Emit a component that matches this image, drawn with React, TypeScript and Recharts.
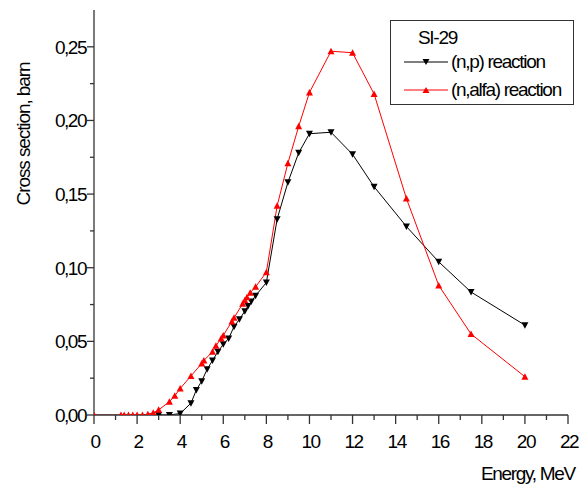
import React from 'react';
import { LineChart, Line, XAxis, YAxis } from 'recharts';

// (n,p) reaction
const npEnergy = [3.0, 3.5, 4.0, 4.5, 4.75, 5.0, 5.25, 5.5, 5.75, 6.0, 6.25, 6.5, 6.75, 7.0, 7.15, 7.3, 7.5, 8.0, 8.5, 9.0, 9.5, 10, 11, 12, 13, 14.5, 16, 17.5, 20];
const npCross = [0, 0, 0.001, 0.008, 0.017, 0.023, 0.031, 0.037, 0.043, 0.048, 0.052, 0.06, 0.065, 0.0705, 0.074, 0.077, 0.081, 0.09, 0.133, 0.158, 0.178, 0.191, 0.192, 0.177, 0.155, 0.128, 0.104, 0.0835, 0.061];

// (n,alfa) reaction
const naEnergy = [0, 1.25, 1.4, 1.6, 1.8, 2.0, 2.25, 2.5, 2.75, 3.0, 3.5, 3.75, 4.0, 4.5, 5.0, 5.1, 5.5, 5.66, 5.9, 6.0, 6.4, 6.5, 6.9, 7.0, 7.1, 7.25, 7.5, 8.0, 8.5, 9.0, 9.5, 10, 11, 12, 13, 14.5, 16, 17.5, 20];
const naCross = [0, 0, 0, 0, 0, 0, 0, 0.0005, 0.0015, 0.0035, 0.009, 0.013, 0.018, 0.0265, 0.035, 0.037, 0.043, 0.047, 0.052, 0.054, 0.0635, 0.066, 0.0755, 0.078, 0.08, 0.083, 0.087, 0.097, 0.142, 0.171, 0.196, 0.219, 0.247, 0.246, 0.218, 0.147, 0.088, 0.055, 0.026];

const xTicks = Array.from({ length: 23 }, (_, i) => i);
const yTicks = [0, 0.025, 0.05, 0.075, 0.1, 0.125, 0.15, 0.175, 0.2, 0.225, 0.25];
const yMajor = [0, 0.05, 0.1, 0.15, 0.2, 0.25];

const title = 'SI-29';
const npName = '(n,p) reaction';
const naName = '(n,alfa) reaction';

const npData = npEnergy.map((x, i) => ({ x, y: npCross[i] }));
const naData = naEnergy.map((x, i) => ({ x, y: naCross[i] }));

const FONT = '"Liberation Sans", Arial, sans-serif';
const AXIS = '#333';

const DownTri = (props: any) => {
  const { cx, cy } = props;
  if (cx == null || cy == null) return null;
  return <path d={`M${cx - 3.5},${cy - 3} L${cx + 3.5},${cy - 3} L${cx},${cy + 3.5} Z`} fill="#000" />;
};
const UpTri = (props: any) => {
  const { cx, cy } = props;
  if (cx == null || cy == null) return null;
  return <path d={`M${cx - 3.5},${cy + 3} L${cx + 3.5},${cy + 3} L${cx},${cy - 3.5} Z`} fill="#ff0000" />;
};

const XTick = (props: any) => {
  const { x, y, payload } = props;
  const v = payload.value;
  const major = v % 2 === 0;
  return (
    <g>
      <line x1={x} x2={x} y1={y} y2={y + (major ? 9 : 5)} stroke={AXIS} strokeWidth={1.3} />
      {major && (
        <text x={x + 1} y={y + 33} textAnchor="middle" fontFamily={FONT} fontSize={19} letterSpacing={-1.5} fill="#000">
          {v}
        </text>
      )}
    </g>
  );
};

const YTick = (props: any) => {
  const { x, y, payload } = props;
  const v = payload.value;
  const major = yMajor.some((m) => Math.abs(m - v) < 1e-9);
  return (
    <g>
      <line x1={x - (major ? 7 : 4)} x2={x} y1={y} y2={y} stroke={AXIS} strokeWidth={1.3} />
      {major && (
        <text x={x - 8} y={y + 7} textAnchor="end" fontFamily={FONT} fontSize={19} letterSpacing={-1.5} fill="#000">
          {v.toFixed(2).replace('.', ',')}
        </text>
      )}
    </g>
  );
};

const Legend = () => (
  <div
    style={{
      position: 'absolute',
      left: 390,
      top: 20,
      width: 184,
      height: 85,
      border: '1.3px solid #333',
      background: '#fff',
      fontFamily: FONT,
      fontSize: 19,
      letterSpacing: -1.3,
      color: '#000',
      boxSizing: 'border-box',
    }}
  >
    <div style={{ position: 'absolute', left: 27, top: 6, lineHeight: '22px' }}>{title}</div>
    <div style={{ position: 'absolute', left: 13, top: 30, display: 'flex', alignItems: 'center', lineHeight: '22px' }}>
      <svg width={44} height={12} style={{ marginRight: 3 }}>
        <line x1={0} x2={44} y1={6} y2={6} stroke="#000" strokeWidth={1} />
        <path d="M18.5,3 L25.5,3 L22,9 Z" fill="#000" />
      </svg>
      <span>{npName}</span>
    </div>
    <div style={{ position: 'absolute', left: 13, top: 58, display: 'flex', alignItems: 'center', lineHeight: '22px' }}>
      <svg width={44} height={12} style={{ marginRight: 3 }}>
        <line x1={0} x2={44} y1={6} y2={6} stroke="#ff0000" strokeWidth={1} />
        <path d="M18.5,9 L25.5,9 L22,3 Z" fill="#ff0000" />
      </svg>
      <span>{naName}</span>
    </div>
  </div>
);

export default function App() {
  return (
    <div style={{ position: 'absolute', left: 0, top: 0, width: 586, height: 484, background: '#fff' }}>
      <LineChart width={586} height={484} margin={{ top: 10, right: 18, bottom: 0, left: 0 }}>
        <XAxis
          type="number"
          dataKey="x"
          domain={[0, 22]}
          ticks={xTicks}
          interval={0}
          height={69}
          tickSize={0}
          tickMargin={0}
          tickLine={false}
          tick={<XTick />}
          stroke={AXIS}
          strokeWidth={1.3}
          allowDataOverflow
          label={({ viewBox }: any) => (
            <text
              x={viewBox.x + viewBox.width + 7}
              y={viewBox.y + 65}
              textAnchor="end"
              fontFamily={FONT}
              fontSize={19}
              letterSpacing={-1.3}
              fill="#000"
            >
              Energy, MeV
            </text>
          )}
        />
        <YAxis
          type="number"
          domain={[0, 0.275]}
          ticks={yTicks}
          interval={0}
          width={94}
          tickSize={0}
          tickMargin={0}
          tickLine={false}
          tick={<YTick />}
          stroke={AXIS}
          strokeWidth={1.3}
          allowDataOverflow
          label={({ viewBox }: any) => {
            const cx = 30;
            const cy = 134;
            return (
              <text
                x={cx}
                y={cy}
                transform={`rotate(-90, ${cx}, ${cy})`}
                textAnchor="middle"
                fontFamily={FONT}
                fontSize={19}
                letterSpacing={-1.1}
                fill="#000"
              >
                Cross section, barn
              </text>
            );
          }}
        />
        <Line
          data={npData}
          dataKey="y"
          name={npName}
          stroke="#000"
          strokeWidth={1}
          dot={<DownTri />}
          activeDot={false}
          isAnimationActive={false}
        />
        <Line
          data={naData}
          dataKey="y"
          name={naName}
          stroke="#ff0000"
          strokeWidth={1}
          dot={<UpTri />}
          activeDot={false}
          isAnimationActive={false}
        />
      </LineChart>
      <Legend />
    </div>
  );
}
